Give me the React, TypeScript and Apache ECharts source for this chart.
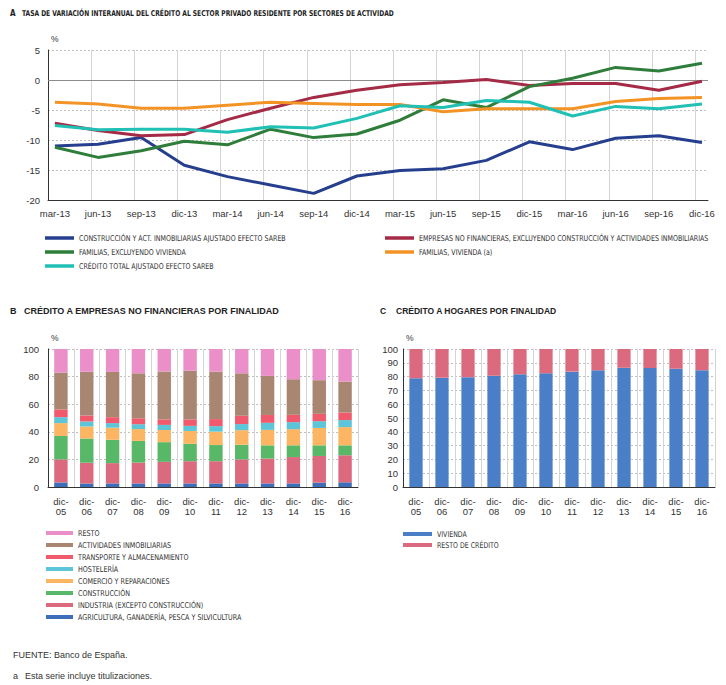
import React, { useEffect, useRef } from "react";
import * as echarts from "echarts";

// ---------- Chart A data ----------
const catsA = ["mar-13","jun-13","sep-13","dic-13","mar-14","jun-14","sep-14","dic-14","mar-15","jun-15","sep-15","dic-15","mar-16","jun-16","sep-16","dic-16"];
const construccion = [-11.0,-10.7,-9.6,-14.2,-16.1,-17.5,-18.9,-16.0,-15.1,-14.8,-13.4,-10.3,-11.6,-9.7,-9.3,-10.4];
const empresas = [-7.2,-8.4,-9.3,-9.1,-6.6,-4.7,-2.9,-1.7,-0.8,-0.4,0.1,-0.9,-0.6,-0.6,-1.7,-0.2];
const familiasExcl = [-11.2,-12.9,-11.8,-10.2,-10.8,-8.2,-9.6,-9.0,-6.7,-3.3,-4.6,-1.1,0.3,2.1,1.5,2.8];
const familiasViv = [-3.7,-4.0,-4.7,-4.7,-4.2,-3.7,-3.9,-4.1,-4.1,-5.3,-4.8,-4.8,-4.8,-3.6,-3.1,-2.9];
const creditoTotal = [-7.6,-8.3,-8.2,-8.2,-8.7,-7.8,-8.0,-6.4,-4.3,-4.6,-3.4,-3.7,-6.0,-4.4,-4.8,-4.0];
const yTicksA = { min: -20, max: 5, step: 5 };

// ---------- Chart B data ----------
const catsB = ["dic-05","dic-06","dic-07","dic-08","dic-09","dic-10","dic-11","dic-12","dic-13","dic-14","dic-15","dic-16"];
const agricultura = [3.3,2.6,2.6,2.6,2.6,2.6,2.6,2.6,2.6,2.6,3.1,3.4];
const industria = [16.7,14.9,14.7,15.1,15.6,16.1,16.1,17.4,18.0,19.1,19.4,19.6];
const construccionB = [17.0,17.7,16.9,15.7,14.3,12.6,11.7,10.6,9.6,8.5,7.7,7.2];
const comercio = [9.3,8.7,8.8,8.6,8.8,9.3,9.7,10.6,11.2,11.7,12.6,13.2];
const hosteleria = [4.3,3.6,3.3,3.5,3.7,3.7,4.0,4.4,5.1,5.1,4.9,5.1];
const transporte = [5.6,4.4,4.3,4.3,4.0,4.7,5.1,6.0,5.7,5.3,5.3,5.5];
const inmobiliarias = [26.7,31.6,32.8,32.6,34.7,35.3,34.4,30.8,28.3,25.8,24.4,22.4];
const restoB = [17.1,16.5,16.6,17.6,16.3,15.7,16.4,17.6,19.5,21.9,22.6,23.6];

// ---------- Chart C data ----------
const vivienda = [78.8,79.2,79.6,80.6,81.7,82.4,83.6,84.6,86.4,86.2,85.7,84.6];
const restoC = [21.2,20.8,20.4,19.4,18.3,17.6,16.4,15.4,13.6,13.8,14.3,15.4];

const NARROW = '"Liberation Sans Narrow", "DejaVu Sans Condensed", "Liberation Sans", sans-serif';
const SANS = '"Liberation Sans", Arial, sans-serif';

const seriesA = [
  { name: "CONSTRUCCIÓN Y ACT. INMOBILIARIAS AJUSTADO EFECTO SAREB", data: construccion, color: "#253f8e" },
  { name: "EMPRESAS NO FINANCIERAS, EXCLUYENDO CONSTRUCCIÓN Y ACTIVIDADES INMOBILIARIAS", data: empresas, color: "#a52a45" },
  { name: "FAMILIAS, EXCLUYENDO VIVIENDA", data: familiasExcl, color: "#2f7d3a" },
  { name: "FAMILIAS, VIVIENDA (a)", data: familiasViv, color: "#f39325" },
  { name: "CRÉDITO TOTAL AJUSTADO EFECTO SAREB", data: creditoTotal, color: "#20c0b5" },
];

const seriesB = [
  { name: "AGRICULTURA, GANADERÍA, PESCA Y SILVICULTURA", data: agricultura, color: "#3e6eb8" },
  { name: "INDUSTRIA (EXCEPTO CONSTRUCCIÓN)", data: industria, color: "#dc6a7e" },
  { name: "CONSTRUCCIÓN", data: construccionB, color: "#58b868" },
  { name: "COMERCIO Y REPARACIONES", data: comercio, color: "#fbb563" },
  { name: "HOSTELERÍA", data: hosteleria, color: "#5cc5d8" },
  { name: "TRANSPORTE Y ALMACENAMIENTO", data: transporte, color: "#f05a6c" },
  { name: "ACTIVIDADES INMOBILIARIAS", data: inmobiliarias, color: "#a98672" },
  { name: "RESTO", data: restoB, color: "#ea8fc8" },
];

const seriesC = [
  { name: "VIVIENDA", data: vivienda, color: "#4a7fc8" },
  { name: "RESTO DE CRÉDITO", data: restoC, color: "#dc6a7e" },
];

function legendItem(x: number, y: number, w: number, color: string, text: string, lw = 3.5, sx = 0.88) {
  return [
    { type: "line", shape: { x1: x, y1: y, x2: x + w, y2: y }, style: { stroke: color, lineWidth: lw } },
    {
      type: "text",
      x: x + w + 5,
      y,
      scaleX: sx,
      style: { text, fontFamily: NARROW, fontSize: 8, fill: "#333", verticalAlign: "middle" },
    },
  ];
}

function titleItem(x: number, y: number, letter: string, text: string, font: string, size: number, gap: number, sx = 1) {
  return [
    { type: "text", x, y, style: { text: letter, fontFamily: font, fontSize: size, fontWeight: "bold", fill: "#222", verticalAlign: "middle" } },
    { type: "text", x: x + gap, y, scaleX: sx, style: { text, fontFamily: font, fontSize: size, fontWeight: "bold", fill: "#222", verticalAlign: "middle" } },
  ];
}

export default function App() {
  const ref = useRef<HTMLDivElement>(null);
  useEffect(() => {
    if (!ref.current) return;
    const chart = echarts.init(ref.current, null, { renderer: "svg" });

    const axisLabelStyle = { color: "#333", fontSize: 9.5, fontFamily: SANS };
    const dashed = { show: true, lineStyle: { color: "#bfbfbf", type: [2, 2], width: 1 } };
    const vgrid = { show: true, lineStyle: { color: "#d4d4d4", width: 1 } };
    const axisLine = { show: true, onZero: false, lineStyle: { color: "#333", width: 1 } };

    const graphic: any[] = [];
    graphic.push(...titleItem(10, 13, "A", "TASA DE VARIACIÓN INTERANUAL DEL CRÉDITO AL SECTOR PRIVADO RESIDENTE POR SECTORES DE ACTIVIDAD", NARROW, 8, 12, 0.83));
    graphic.push(...titleItem(10, 311, "B", "CRÉDITO A EMPRESAS NO FINANCIERAS POR FINALIDAD", SANS, 9, 14));
    graphic.push(...titleItem(380, 311, "C", "CRÉDITO A HOGARES POR FINALIDAD", SANS, 8.5, 16));

    // Legend A
    const legAPos = [
      [45, 238], [385, 238], [45, 252], [385, 252], [45, 266],
    ];
    seriesA.forEach((s, k) => {
      graphic.push(...legendItem(legAPos[k][0], legAPos[k][1], 29, s.color, s.name, 3.5, 0.88));
    });
    // Legend B (top to bottom: RESTO ... AGRICULTURA)
    const revB = [...seriesB].reverse();
    revB.forEach((s, k) => {
      graphic.push(...legendItem(46, 533 + k * 12, 27, s.color, s.name, 4, 0.89));
    });
    // Legend C
    seriesC.forEach((s, k) => {
      graphic.push(...legendItem(403, 534 + k * 11, 29, s.color, s.name, 4, 0.87));
    });
    // Footnotes
    graphic.push({ type: "text", x: 13, y: 655, style: { text: "FUENTE: Banco de España.", fontFamily: SANS, fontSize: 9, fill: "#333", verticalAlign: "middle" } });
    graphic.push({ type: "text", x: 13, y: 676, style: { text: "a", fontFamily: SANS, fontSize: 9, fill: "#333", verticalAlign: "middle" } });
    graphic.push({ type: "text", x: 25, y: 676, style: { text: "Esta serie incluye titulizaciones.", fontFamily: SANS, fontSize: 9, fill: "#333", verticalAlign: "middle" } });

    const idxA = catsA.map((_, i) => i);

    const option: any = {
      animation: false,
      backgroundColor: "#ffffff",
      textStyle: { fontFamily: SANS },
      grid: [
        { left: 48, right: 18, top: 50, bottom: 485 },
        { left: 48, right: 368, top: 349, bottom: 198 },
        { left: 403, right: 11, top: 349, bottom: 198 },
      ],
      xAxis: [
        {
          type: "value", gridIndex: 0, min: -0.16, max: 15.14, interval: 1,
          axisLine, axisTick: { show: false },
          splitLine: { ...vgrid, showMaxLine: false },
          axisLabel: {
            ...axisLabelStyle, margin: 8, customValues: idxA,
            formatter: (v: number) => catsA[Math.round(v)] ?? "",
          },
        },
        {
          type: "category", gridIndex: 1, data: catsB, boundaryGap: true,
          axisLine, axisTick: { show: false }, splitLine: vgrid,
          axisLabel: { ...axisLabelStyle, margin: 9, lineHeight: 10, interval: 0, formatter: (v: string) => v.replace("-", "-\n") },
        },
        {
          type: "category", gridIndex: 2, data: catsB, boundaryGap: true,
          axisLine, axisTick: { show: false }, splitLine: vgrid,
          axisLabel: { ...axisLabelStyle, margin: 9, lineHeight: 10, interval: 0, formatter: (v: string) => v.replace("-", "-\n") },
        },
      ],
      yAxis: [
        {
          type: "value", gridIndex: 0, min: yTicksA.min, max: yTicksA.max, interval: yTicksA.step,
          name: "%", nameLocation: "end", nameGap: 7,
          nameTextStyle: { color: "#333", fontSize: 8.5, align: "left", padding: [0, 0, 0, 3] },
          axisLine, axisTick: { show: false }, splitLine: dashed,
          axisLabel: { ...axisLabelStyle, margin: 8 },
        },
        {
          type: "value", gridIndex: 1, min: 0, max: 100, interval: 20,
          name: "%", nameLocation: "end", nameGap: 7,
          nameTextStyle: { color: "#333", fontSize: 8.5, align: "left", padding: [0, 0, 0, 3] },
          axisLine, axisTick: { show: false }, splitLine: dashed,
          axisLabel: { ...axisLabelStyle, margin: 9 },
        },
        {
          type: "value", gridIndex: 2, min: 0, max: 100, interval: 10,
          name: "%", nameLocation: "end", nameGap: 7,
          nameTextStyle: { color: "#333", fontSize: 8.5, align: "left", padding: [0, 0, 0, 3] },
          axisLine, axisTick: { show: false }, splitLine: dashed,
          axisLabel: { ...axisLabelStyle, margin: 5 },
        },
      ],
      series: [
        ...seriesA.map((s, k) => ({
          type: "line", name: s.name, xAxisIndex: 0, yAxisIndex: 0,
          data: s.data.map((v, i) => [i, v]),
          symbol: "none", lineStyle: { color: s.color, width: 3 }, itemStyle: { color: s.color },
          z: 3,
          markLine: k === 0 ? {
            silent: true, symbol: "none", label: { show: false },
            lineStyle: { color: "#8c8c8c", type: "solid", width: 1 },
            data: [{ yAxis: 0 }], z: 1,
          } : undefined,
        })),
        ...seriesB.map((s) => ({
          type: "bar", name: s.name, xAxisIndex: 1, yAxisIndex: 1, stack: "b",
          data: s.data, barWidth: "52%", itemStyle: { color: s.color },
        })),
        ...seriesC.map((s) => ({
          type: "bar", name: s.name, xAxisIndex: 2, yAxisIndex: 2, stack: "c",
          data: s.data, barWidth: "51%", itemStyle: { color: s.color },
        })),
      ],
      graphic,
    };
    chart.setOption(option);
    return () => chart.dispose();
  }, []);
  return <div ref={ref} style={{ position: "absolute", left: 0, top: 0, width: 726, height: 685 }} />;
}
